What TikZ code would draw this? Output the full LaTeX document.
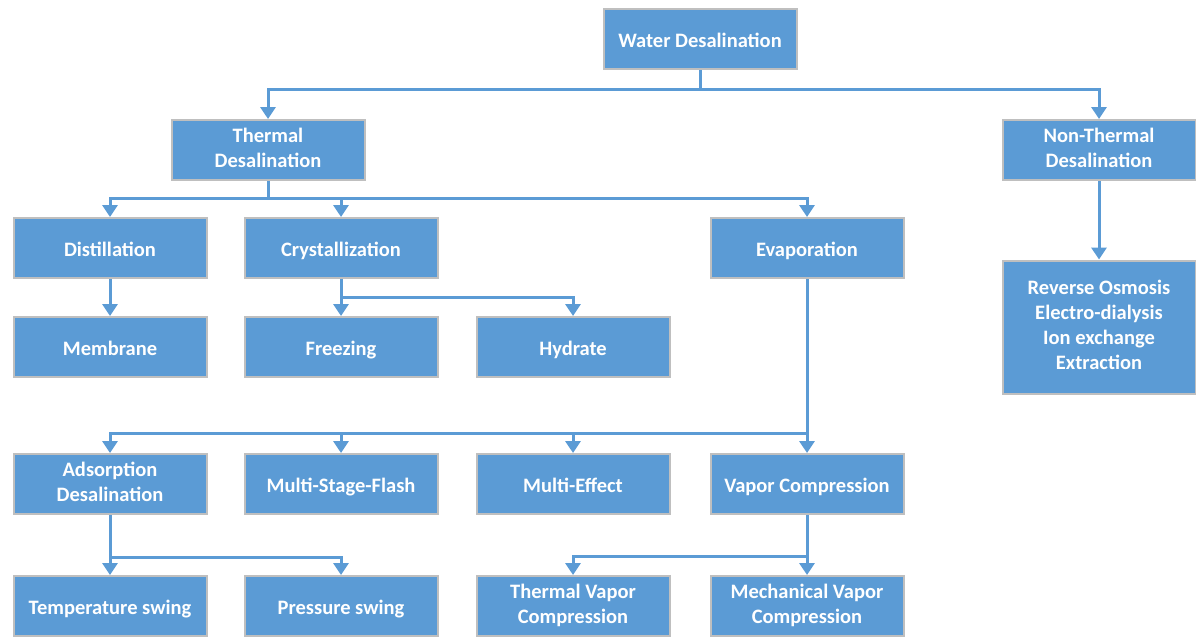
\documentclass[tikz,border=0pt]{standalone}
\usepackage{fontspec}
\setmainfont{Carlito}
\usetikzlibrary{arrows.meta}
\definecolor{boxblue}{RGB}{91,155,213}
\definecolor{boxgray}{RGB}{191,191,191}
\newcommand{\boxstrut}{\rule[-5pt]{0pt}{27pt}}

\begin{document}
\begin{tikzpicture}[x=1pt, y=-1pt, line width=3pt,
    box/.style={rectangle, fill=boxblue, draw=boxgray, line width=2pt, minimum width=193pt, minimum height=60pt, align=center, text=white, font=\fontsize{20.5}{25}\selectfont\bfseries, execute at begin node=\boxstrut, execute at end node=\boxstrut},
    link/.style={draw=boxblue, -{Triangle[width=15pt,length=12pt]}}]
            \useasboundingbox (0,0) rectangle (1196,640);
            % --- Nodes Placement ---
            \node[box] (WD) at (700,39) {Water Desalination};
            \node[box] (TD) at (268,150) {Thermal\\Desalination};
            \node[box] (NTD) at (1099,150) {Non-Thermal\\Desalination};

            \node[box] (Dist) at (110,248) {Distillation};
            \node[box] (Cryst) at (341,248) {Crystallization};
            \node[box] (Evap) at (807,248) {Evaporation};

            \node[box] (Memb) at (110,347) {Membrane};
            \node[box] (Freez) at (341,347) {Freezing};
            \node[box] (Hyd) at (573,347) {Hydrate};
            \node[box, minimum height=133pt] (NTlist) at (1099,327) {Reverse Osmosis\\Electro-dialysis\\Ion exchange\\Extraction};

            \node[box] (AD) at (110,484) {Adsorption\\Desalination};
            \node[box] (MSF) at (341,484) {Multi-Stage-Flash};
            \node[box] (ME) at (573,484) {Multi-Effect};
            \node[box] (VC) at (807,484) {Vapor Compression};

            \node[box] (TS) at (110,606) {Temperature swing};
            \node[box] (PS) at (341,606) {Pressure swing};
            \node[box] (TVC) at (573,606) {Thermal Vapor\\Compression};
            \node[box] (MVC) at (807,606) {Mechanical Vapor\\Compression};

            % --- Straight Connections ---
            \draw[link] (Dist) -- (Memb);
            \draw[link] (NTD) -- (NTlist);

            % --- Branching Connections ---
            \draw[link] (WD.south) -- ++(0,19) -| (TD.north);
            \draw[link] (WD.south) -- ++(0,19) -| (NTD.north);

            \draw[link] (TD.south) -- ++(0,17) -| (Dist.north);
            \draw[link] (TD.south) -- ++(0,17) -| (Cryst.north);
            \draw[link] (TD.south) -- ++(0,17) -| (Evap.north);

            \draw[link] (Cryst.south) -- ++(0,18) -| (Freez.north);
            \draw[link] (Cryst.south) -- ++(0,18) -| (Hyd.north);

            \draw[link] (Evap.south) -- ++(0,154) -| (AD.north);
            \draw[link] (Evap.south) -- ++(0,154) -| (MSF.north);
            \draw[link] (Evap.south) -- ++(0,154) -| (ME.north);
            \draw[link] (Evap.south) -- ++(0,154) -| (VC.north);

            \draw[link] (AD.south) -- ++(0,42) -| (TS.north);
            \draw[link] (AD.south) -- ++(0,42) -| (PS.north);

            \draw[link] (VC.south) -- ++(0,41) -| (TVC.north);
            \draw[link] (VC.south) -- ++(0,41) -| (MVC.north);
        \end{tikzpicture}
\end{document}
